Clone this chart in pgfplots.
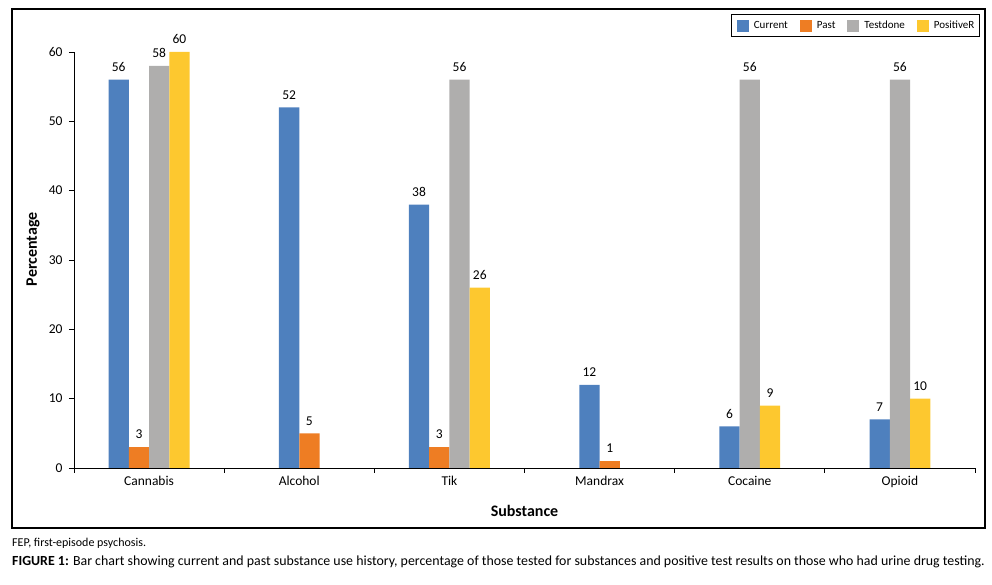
\documentclass[border=0pt]{standalone}
\usepackage{pgfplots}
\pgfplotsset{compat=1.18}
\usepackage{fontspec}
\setmainfont{Carlito}
\definecolor{cCur}{HTML}{4E80BE}
\definecolor{cPast}{HTML}{EE7D23}
\definecolor{cTest}{HTML}{AFAEAD}
\definecolor{cPos}{HTML}{FDC82F}
\begin{document}
\begin{tikzpicture}
\useasboundingbox (0,0) rectangle (992pt,585pt);
\draw[line width=1.1pt] (12pt,57pt) rectangle (985pt,576pt);
\begin{axis}[
  at={(74pt,117pt)}, anchor=south west,
  scale only axis, width=901pt, height=416pt,
  xmin=-0.5, xmax=5.5, ymin=0, ymax=60,
  axis x line*=bottom, axis y line*=left,
  axis line style={black, line width=0.9pt, -},
  tick style={black, line width=0.9pt},
  tick align=outside, major tick length=5pt,
  xtick={-0.5,0.5,...,5.5},
  xticklabels={Cannabis,Alcohol,Tik,Mandrax,Cocaine,Opioid},
  x tick label as interval,
  ytick={0,10,...,60},
  /pgf/number format/assume math mode=true,
  ticklabel style={font=\fontsize{13.5}{16}\selectfont},
  yticklabel style={xshift=-3pt},
  xlabel={Substance}, ylabel={Percentage},
  every axis x label/.style={at={(axis description cs:0.5,-0.1154)}, anchor=base,
    font=\fontsize{16}{19}\selectfont\bfseries},
  every axis y label/.style={at={(axis description cs:-0.0455,0.526)}, rotate=90, anchor=center,
    font=\fontsize{16}{19}\selectfont\bfseries},
  nodes near coords,
  every node near coord/.append style={font=\fontsize{13.5}{16}\selectfont, inner sep=0pt, anchor=south, yshift=8pt, black},
  legend columns=-1,
  legend image code/.code={\fill[#1] (0pt,-6pt) rectangle (12pt,6pt);},
  legend style={at={(rel axis cs:1.0055,1.0913)}, anchor=north east,
    draw=black, line width=1.1pt, inner xsep=5pt, inner ysep=5pt,
    font=\fontsize{11}{13}\selectfont,
    nodes={inner sep=0pt},
    /tikz/every odd column/.append style={column sep=5pt},
    /tikz/every even column/.append style={column sep=12pt}},
]
\addplot[ybar, bar width=0.135, bar shift=0pt, fill=cCur, draw=none]
  coordinates {(-0.2025,56) (0.9325,52) (1.7975,38) (2.9325,12) (3.865,6) (4.865,7)};
\addlegendentry{Current}
\addplot[ybar, bar width=0.135, bar shift=0pt, fill=cPast, draw=none]
  coordinates {(-0.0675,3) (1.0675,5) (1.9325,3) (3.0675,1)};
\addlegendentry{Past}
\addplot[ybar, bar width=0.135, bar shift=0pt, fill=cTest, draw=none]
  coordinates {(0.0675,58) (2.0675,56) (4.0,56) (5.0,56)};
\addlegendentry{Testdone}
\addplot[ybar, bar width=0.135, bar shift=0pt, fill=cPos, draw=none]
  coordinates {(0.2025,60) (2.2025,26) (4.135,9) (5.135,10)};
\addlegendentry{PositiveR}
\end{axis}
\node[anchor=base west, inner sep=0pt, font=\fontsize{12}{14}\selectfont] at (12pt,38pt) {FEP, first-episode psychosis.};
\node[anchor=base west, inner sep=0pt, font=\fontsize{13.9}{16}\selectfont] at (12pt,19pt) {\textbf{FIGURE 1:} Bar chart showing current and past substance use history, percentage of those tested for substances and positive test results on those who had urine drug testing.};
\end{tikzpicture}
\end{document}
